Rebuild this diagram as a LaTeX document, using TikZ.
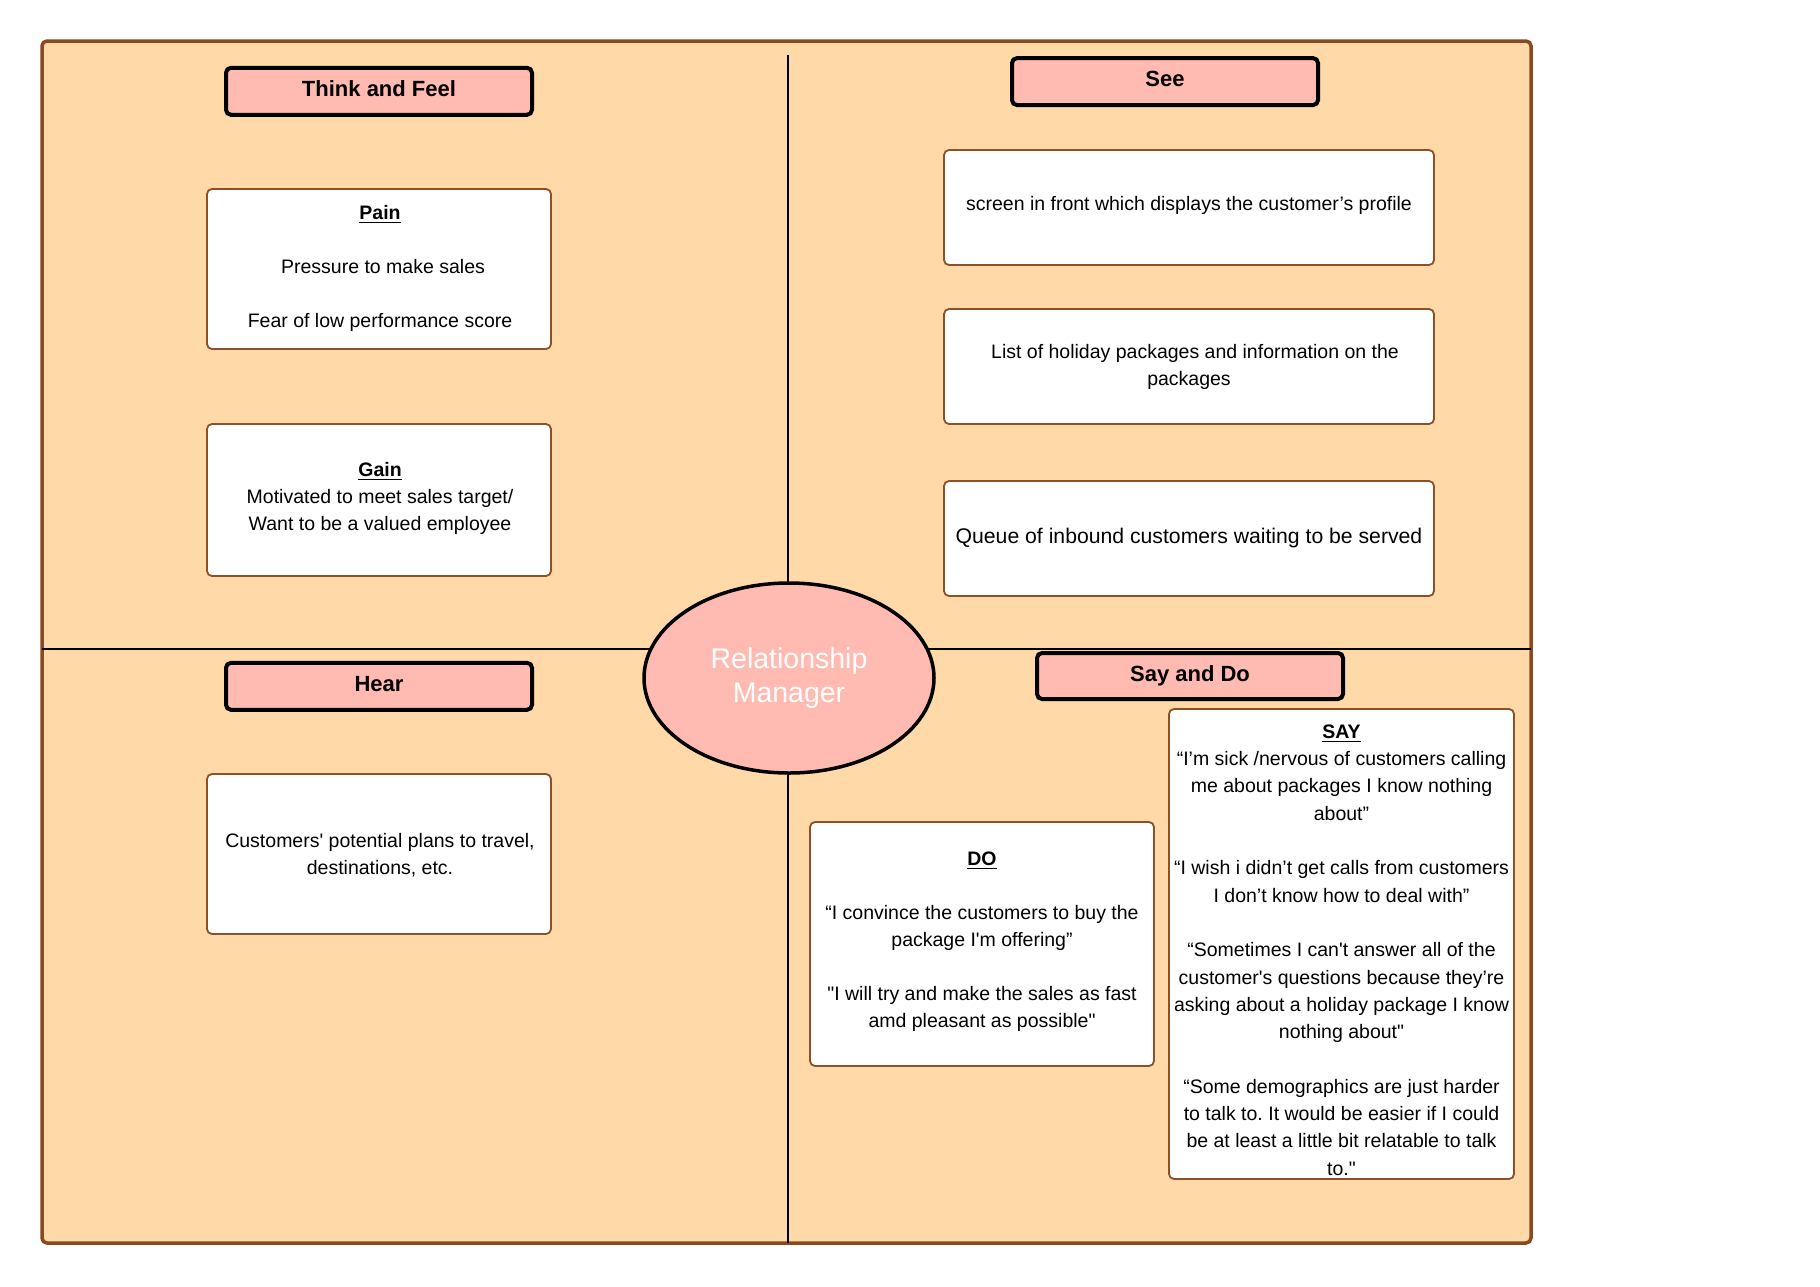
\documentclass[tikz,border=0pt]{standalone}
\usepackage{fontspec}
\setmainfont{Liberation Sans}[Ligatures=TeXOff]
\usetikzlibrary{shapes.geometric}
\definecolor{peach}{HTML}{FFD9A8}
\definecolor{brownb}{HTML}{8A4A20}
\definecolor{cardb}{HTML}{8E5027}
\definecolor{salmon}{HTML}{FFBBB1}
\frenchspacing
\begin{document}
\begin{tikzpicture}[x=0.5pt,y=-0.5pt,
  outerbox/.style={draw=brownb, line width=1.75pt, fill=peach, rounded corners=2.5pt},
  divider/.style={draw=black, line width=0.9pt},
  header/.style={draw=black, line width=2pt, fill=salmon, rounded corners=2.5pt,
    minimum width=153pt, minimum height=23.5pt, inner sep=0pt,
    text height=8pt, text depth=2.9pt,
    font=\bfseries\fontsize{11pt}{13pt}\selectfont},
  card/.style={draw=cardb, line width=0.9pt, fill=white, rounded corners=2.5pt,
    align=center, inner sep=0pt, font=\fontsize{9.75pt}{13.5pt}\selectfont},
  cardtext/.style={align=center, inner sep=0pt, font=\fontsize{9.75pt}{13.5pt}\selectfont},
  hub/.style={ellipse, draw=black, line width=1.75pt, fill=salmon,
    minimum width=145pt, minimum height=95pt, inner sep=0pt, align=center,
    text=white, font=\fontsize{14.25pt}{17.3pt}\selectfont}
]
\useasboundingbox (0,0) rectangle (1820,1286);
% background board
\draw[outerbox] (42,41) rectangle (1531,1243);
% quadrant dividers
\coordinate (vtop) at (788,55);
\coordinate (vbot) at (788,1243);
\coordinate (hleft) at (42,649);
\coordinate (hright) at (1531,649);
\draw[divider] (vtop) -- (vbot);
\draw[divider] (hleft) -- (hright);
% centre
\node[hub] (rm) at (789,678) {Relationship\\Manager};
% headers
\node[header] (tf) at (379,91.3) {Think and Feel};
\node[header] (see) at (1165,81.6) {See};
\node[header] (hear) at (379,686.3) {Hear};
\node[header, minimum height=23pt] (sd) at (1190,676) {Say and Do};
% think and feel cards
\node[card, minimum width=172pt, minimum height=80pt] (pain) at (379,269) {};
\node[cardtext] (paint) at (380,268)
  {\underline{\textbf{Pain}}\\[13.5pt] \hspace*{3pt}Pressure to make sales\\[13.5pt] Fear of low performance score};
\node[card, minimum width=172pt, minimum height=76pt] (gain) at (379,500) {};
\node[cardtext] (gaint) at (380,498.5)
  {\underline{\textbf{Gain}}\\ Motivated to meet sales target/\\ Want to be a valued employee};
% see cards
\node[card, minimum width=245pt, minimum height=57.5pt] (see1) at (1189,207.5) {};
\node[cardtext] (see1t) at (1189,205)
  {screen in front which displays the customer’s profile};
\node[card, minimum width=245pt, minimum height=57.5pt] (see2) at (1189,366.5) {};
\node[cardtext] (see2t) at (1195,366.5)
  {List of holiday packages and information on the\\ \hspace*{-6pt}packages};
\node[card, minimum width=245pt, minimum height=57.5pt, font=\fontsize{10.6pt}{13.5pt}\selectfont] (see3) at (1189,538.5)
  {Queue of inbound customers waiting to be served};
% hear card
\node[card, minimum width=172pt, minimum height=80pt] (hearc) at (379,854) {};
\node[cardtext] (hearct) at (380,855)
  {Customers' potential plans to travel,\\ destinations, etc.};
% say and do cards
\node[card, minimum width=172pt, minimum height=122pt] (do) at (982,944) {};
\node[cardtext] (dot) at (982,941.5)
  {\underline{\textbf{DO}}\\[13.5pt]
   “I convince the customers to buy the\\ package I'm offering”\\[13.5pt]
   "I will try and make the sales as fast\\ amd pleasant as possible"};
\node[card, minimum width=172.5pt, minimum height=235pt] (say) at (1341.5,944) {};
\node[cardtext, font=\fontsize{9.75pt}{13.65pt}\selectfont] (sayt) at (1341.5,950)
  {\underline{\textbf{SAY}}\\
   “I’m sick /nervous of customers calling\\
   me about packages I know nothing\\
   about”\\[13.65pt]
   “I wish i didn’t get calls from customers\\
   I don’t know how to deal with”\\[13.65pt]
   “Sometimes I can't answer all of the\\
   customer's questions because they’re\\
   asking about a holiday package I know\\
   nothing about"\\[13.65pt]
   “Some demographics are just harder\\
   to talk to. It would be easier if I could\\
   be at least a little bit relatable to talk\\
   to."};
\end{tikzpicture}
\end{document}
